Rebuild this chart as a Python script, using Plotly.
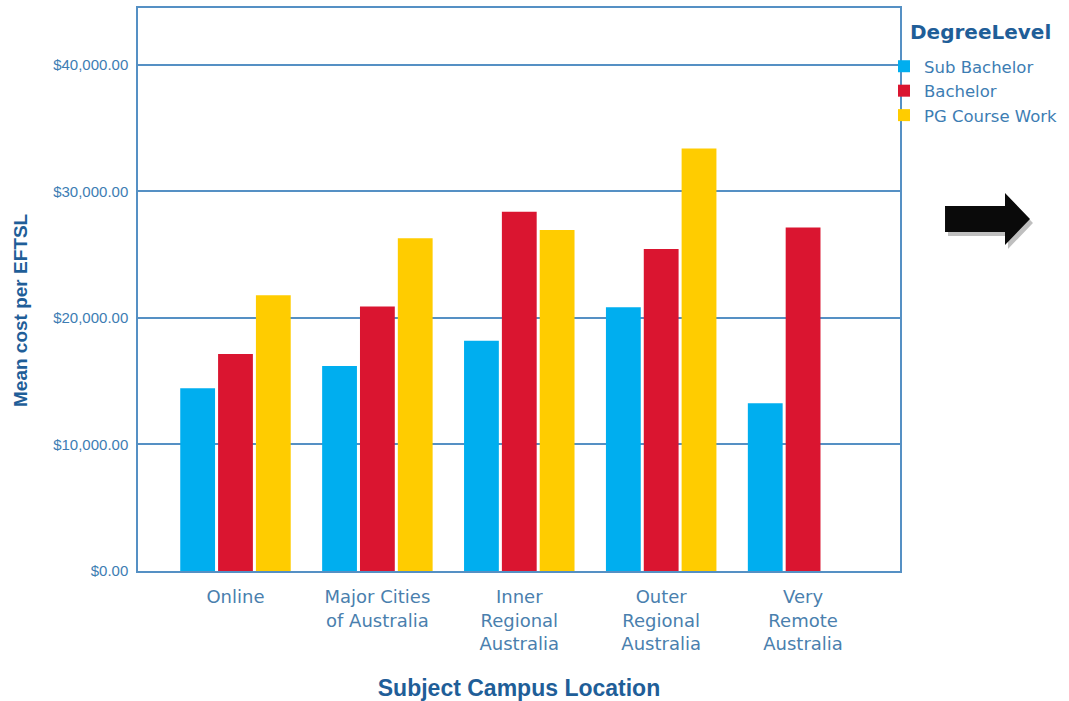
import plotly.graph_objects as go

# Mean cost per EFTSL by campus location and degree level
locations = [
    "Online",
    "Major Cities<br>of Australia",
    "Inner<br>Regional<br>Australia",
    "Outer<br>Regional<br>Australia",
    "Very<br>Remote<br>Australia",
]
sub_bachelor = [14450, 16200, 18200, 20850, 13250]
bachelor = [17150, 20900, 28400, 25450, 27150]
pg_course_work = [21800, 26300, 26950, 33400, None]

series = [
    ("Sub Bachelor", sub_bachelor, "#00AEEF"),
    ("Bachelor", bachelor, "#DA1530"),
    ("PG Course Work", pg_course_work, "#FFCC00"),
]

W, H = 1069, 701
ML, MR, MT, MB = 138, 169, 8, 130
PW, PH = W - ML - MR, H - MT - MB

fig = go.Figure()
for name, vals, color in series:
    fig.add_trace(go.Bar(name=name, x=locations, y=vals, marker_color=color,
                         marker_line_width=0))

axis_blue = "#5590C4"
tick_blue = "#3D7DB3"
title_blue = "#1F5E98"


def px(x, y):
    """Convert page pixel position to paper coordinates."""
    return (x - ML) / PW, (H - MB - y) / PH


def arrow_path(dx=0, dy=0):
    pts = [(945, 206), (1005, 206), (1005, 193), (1030, 219),
           (1005, 245), (1005, 232), (945, 232)]
    coords = [px(x + dx, y + dy) for x, y in pts]
    return "M " + " L ".join(f"{a:.4f},{b:.4f}" for a, b in coords) + " Z"


ytitle_x, ytitle_y = px(21, 310)
ltitle_x, ltitle_y = px(980, 32)

fig.update_layout(
    width=W, height=H,
    margin=dict(l=ML, r=MR, t=MT, b=MB, autoexpand=False),
    paper_bgcolor="white", plot_bgcolor="white",
    barmode="group", bargap=0.2, bargroupgap=0.08,
    font=dict(family="Liberation Sans, Arial, sans-serif", color=tick_blue),
    xaxis=dict(
        range=[-0.687, 4.683],
        showline=True, linecolor=axis_blue, linewidth=1.5, mirror=True,
        showgrid=False, ticks="", ticklabelstandoff=9,
        tickfont=dict(family="DejaVu Sans, sans-serif", size=18, color="#4A7FAE"),
        title=dict(text="<b>Subject Campus Location</b>",
                   font=dict(family="Liberation Sans, Arial, sans-serif", size=23,
                             color=title_blue), standoff=28),
    ),
    yaxis=dict(
        range=[0, 44500],
        tickvals=[0, 10000, 20000, 30000, 40000],
        tickformat="$,.2f",
        showline=True, linecolor=axis_blue, linewidth=1.5, mirror=True,
        showgrid=True, gridcolor=axis_blue, gridwidth=1.5,
        zeroline=False, ticks="", ticklabelstandoff=5,
        tickfont=dict(family="Liberation Sans, Arial, sans-serif", size=15, color=tick_blue),
    ),
    legend=dict(
        font=dict(family="DejaVu Sans, sans-serif", size=16.5, color=tick_blue),
        x=(884 - ML) / PW, xanchor="left", y=(H - MB - 49) / PH, yanchor="top",
        bgcolor="rgba(0,0,0,0)", itemwidth=30, tracegroupgap=0,
    ),
    annotations=[
        dict(text="<b>Mean cost per EFTSL</b>", textangle=-90,
             xref="paper", yref="paper", x=ytitle_x, y=ytitle_y,
             xanchor="center", yanchor="middle", showarrow=False,
             font=dict(family="Liberation Sans, Arial, sans-serif", size=19,
                       color=title_blue)),
        dict(text="<b>DegreeLevel</b>",
             xref="paper", yref="paper", x=ltitle_x, y=ltitle_y,
             xanchor="center", yanchor="middle", showarrow=False,
             font=dict(family="DejaVu Sans, sans-serif", size=20, color=title_blue)),
    ],
    shapes=[
        dict(type="path", xref="paper", yref="paper", path=arrow_path(3, 4),
             fillcolor="rgba(0,0,0,0.25)", line=dict(width=0)),
        dict(type="path", xref="paper", yref="paper", path=arrow_path(),
             fillcolor="#0a0a0a", line=dict(width=0)),
    ],
)

fig.write_html("out.html")
